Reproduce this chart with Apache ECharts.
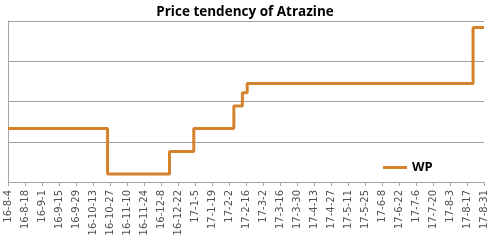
<!DOCTYPE html>
<html>
<head>
<meta charset="utf-8">
<script src="https://cdn.jsdelivr.net/npm/echarts@6/dist/echarts.min.js"></script>
<style>html,body{margin:0;padding:0;background:#fff}#c{width:490px;height:240px}</style>
</head>
<body>
<div id="c"></div>
<script>
// Days since 2016-08-04 where the WP price changes, and the price level from that day
const changeDays = [0, 82, 133, 153, 186, 193, 197, 383, 392];
const wpValues   = [1.33, 0.2, 0.76, 1.33, 1.89, 2.22, 2.45, 3.84, 3.84];
const startDate = [2016, 8, 4];
const tickStepDays = 14;
const totalDays = 392;

function dayLabel(d) {
  const dt = new Date(Date.UTC(startDate[0], startDate[1] - 1, startDate[2] + d));
  return String(dt.getUTCFullYear()).slice(2) + '-' + (dt.getUTCMonth() + 1) + '-' + dt.getUTCDate();
}

const seriesData = changeDays.map((d, i) => [d, wpValues[i]]);
const chart = echarts.init(document.getElementById('c'));
chart.setOption({
  animation: false,
  backgroundColor: '#fff',
  title: {
    text: 'Price tendency of Atrazine',
    left: 'center', top: 0,
    textStyle: { fontFamily: 'Open Sans', fontWeight: 'bold', fontSize: 13.5, color: '#000' }
  },
  legend: {
    left: 378, top: 156,
    itemWidth: 24, itemHeight: 12, itemGap: 6,
    data: [{ name: 'WP', icon: 'path://M0,5 L24,5 L24,8 L0,8 Z' }],
    textStyle: { fontFamily: 'Open Sans', fontWeight: 'bold', fontSize: 13, color: '#000' }
  },
  grid: { left: 8, right: 6, top: 21, bottom: 58, containLabel: false },
  xAxis: {
    type: 'value', min: 0, max: totalDays, interval: tickStepDays,
    axisLine: { show: true, lineStyle: { color: '#A6A6A6', width: 1 } },
    axisTick: { show: true, length: 4, lineStyle: { color: '#A6A6A6' } },
    splitLine: { show: false },
    axisLabel: {
      rotate: 90, fontSize: 10, color: '#505050', fontFamily: 'DejaVu Sans', margin: 8,
      formatter: v => dayLabel(v)
    }
  },
  yAxis: {
    type: 'value', min: 0, max: 4, interval: 1,
    axisLine: { show: true, lineStyle: { color: '#A6A6A6', width: 1 } },
    axisTick: { show: false },
    axisLabel: { show: false },
    splitLine: { show: true, lineStyle: { color: '#A0A0A0', width: 1 } }
  },
  series: [{
    name: 'WP', type: 'line', step: 'end',
    data: seriesData,
    showSymbol: false, symbol: 'none',
    lineStyle: { color: '#D4822C', width: 3 },
    itemStyle: { color: '#D4822C' }
  }]
});
</script>
</body>
</html>
